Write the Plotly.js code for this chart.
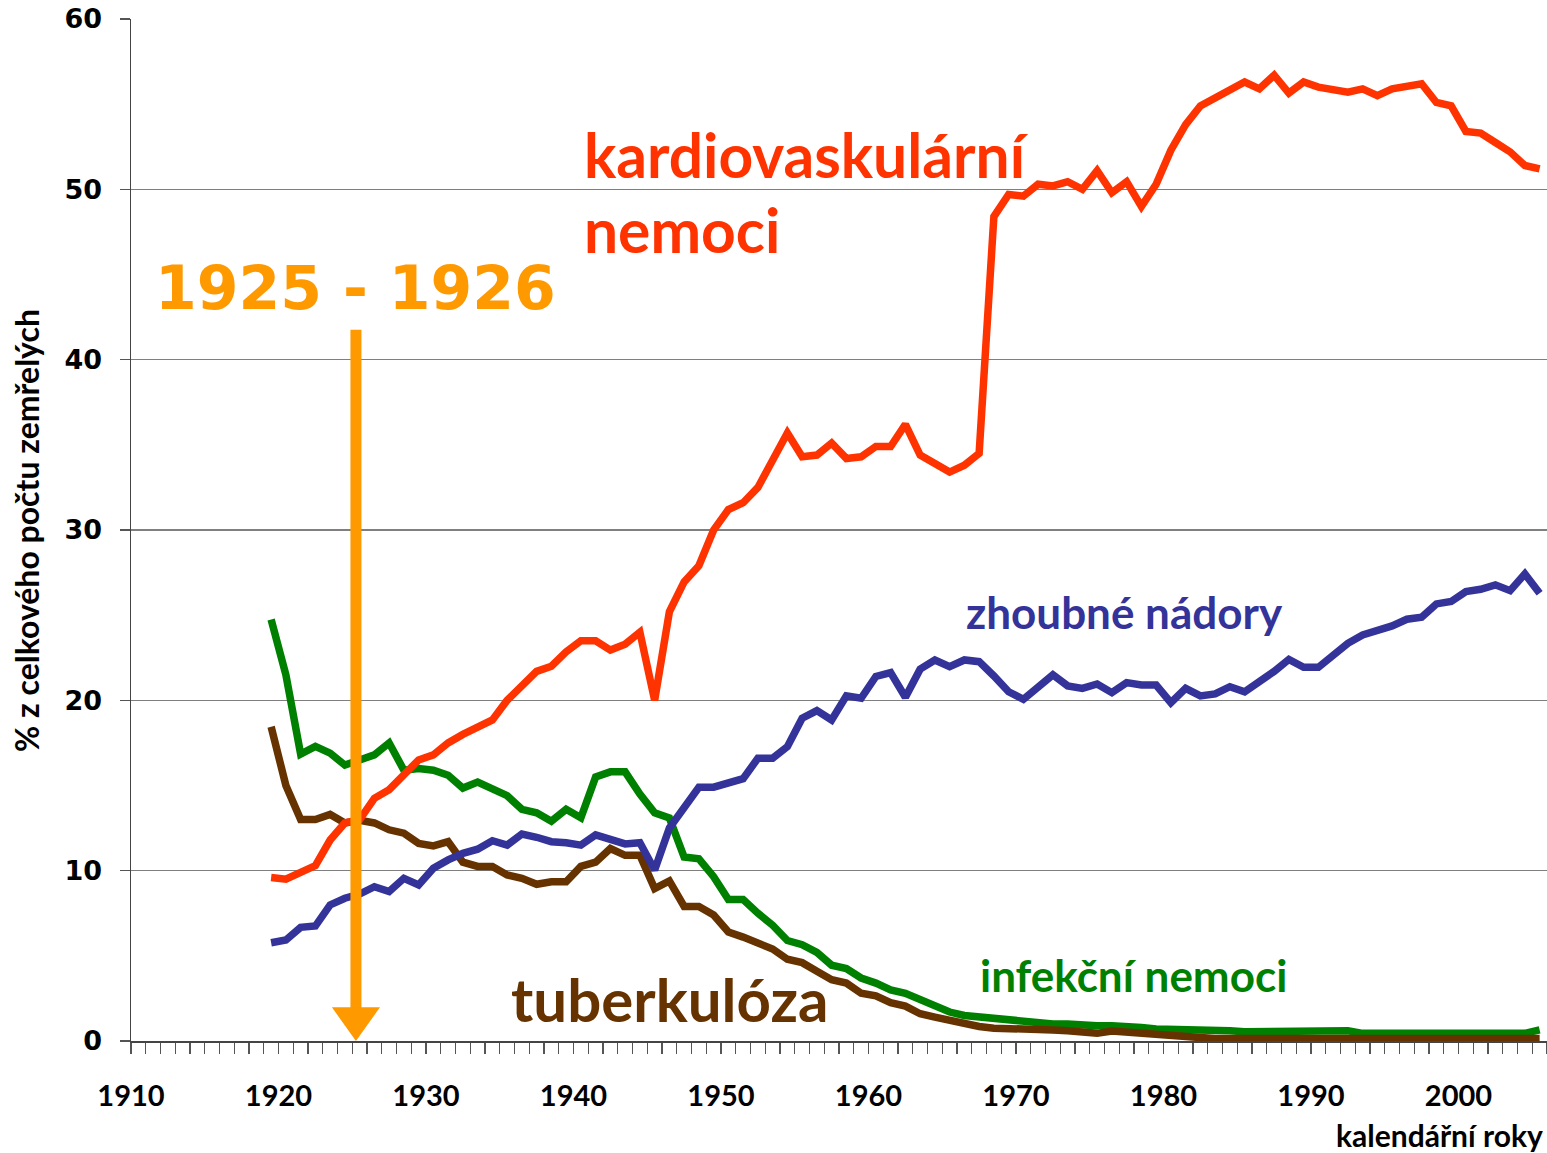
<!DOCTYPE html>
<html>
<head>
<meta charset="utf-8">
<script src="https://cdn.plot.ly/plotly-3.0.1.min.js"></script>
<style>html,body{margin:0;padding:0;background:#fff;}#chart{width:1547px;height:1153px;}</style>
</head>
<body>
<div id="chart"></div>
<script>
const years = [];
for (let y = 1919; y <= 2005; y++) years.push(y);

const cardio = [9.6,9.5,9.9,10.3,11.8,12.8,13.0,14.25,14.75,15.6,16.5,16.8,17.5,18.0,18.45,18.85,20.0,20.8,21.7,22.0,22.85,23.5,23.5,22.95,23.3,24.0,20.0,25.2,26.95,27.9,30.0,31.2,31.6,32.5,34.2,35.7,34.3,34.4,35.1,34.2,34.3,34.9,34.9,36.2,34.4,33.9,33.4,33.8,34.5,48.4,49.7,49.6,50.3,50.2,50.45,50.0,51.1,49.8,50.45,49.0,50.3,52.3,53.8,54.9,55.4,55.9,56.3,55.9,56.7,55.65,56.3,56.0,55.9,55.7,55.9,55.5,55.9,56.0,56.2,55.1,54.9,53.4,53.3,52.75,52.2,51.4,51.2];

const cancer = [5.77,5.93,6.67,6.75,7.99,8.38,8.63,9.06,8.77,9.55,9.16,10.14,10.63,11.02,11.26,11.76,11.5,12.15,11.96,11.7,11.64,11.5,12.1,11.84,11.57,11.64,10.04,12.5,13.76,14.9,14.9,15.13,15.4,16.6,16.6,17.28,18.95,19.4,18.85,20.26,20.12,21.4,21.63,20.18,21.83,22.37,21.98,22.37,22.27,21.43,20.5,20.06,20.85,21.5,20.85,20.7,20.96,20.45,21.04,20.9,20.9,19.86,20.7,20.26,20.38,20.8,20.5,21.04,21.7,22.4,21.94,21.94,22.67,23.35,23.84,24.1,24.37,24.76,24.88,25.66,25.8,26.38,26.52,26.78,26.44,27.42,26.29];

const infect = [24.75,21.5,16.85,17.3,16.9,16.2,16.5,16.8,17.5,15.9,16.0,15.9,15.6,14.85,15.2,14.75,14.4,13.6,13.4,12.9,13.6,13.1,15.5,15.8,15.8,14.5,13.4,13.1,10.8,10.7,9.65,8.3,8.3,7.5,6.8,5.9,5.65,5.2,4.45,4.25,3.7,3.4,3.0,2.8,2.4,2.0,1.7,1.5,1.4,1.3,1.2,1.1,1.0,1.0,1.0,0.9,0.9,0.9,0.9,0.8,0.7,0.7,0.65,0.6,0.7,0.6,0.55,0.55,0.5,0.6,0.5,0.6,0.5,0.6,0.45,0.45,0.45,0.45,0.45,0.45,0.45,0.45,0.45,0.45,0.45,0.45,0.65];

const tuber = [18.45,15.0,13.0,13.0,13.3,12.8,12.95,12.8,12.4,12.2,11.6,11.45,11.7,10.5,10.25,10.25,9.75,9.55,9.2,9.35,9.35,10.25,10.5,11.3,10.9,10.9,8.95,9.4,7.9,7.9,7.4,6.4,6.1,5.8,5.4,4.8,4.6,4.1,3.6,3.4,2.8,2.65,2.25,2.05,1.6,1.4,1.2,1.0,0.85,0.75,0.75,0.7,0.65,0.65,0.6,0.55,0.45,0.58,0.5,0.45,0.35,0.3,0.25,0.2,0.15,0.15,0.15,0.15,0.15,0.15,0.15,0.15,0.15,0.15,0.15,0.15,0.15,0.15,0.15,0.15,0.15,0.15,0.15,0.15,0.15,0.15,0.15];

const xTickYears = [1910,1920,1930,1940,1950,1960,1970,1980,1990,2000];
const yTicks = [0,10,20,30,40,50,60];

// annual values plotted at mid-year
const xs = years.map(y => y + 0.5);

const calibri = 'Lato, "Open Sans", sans-serif';
const W = 7.5;

const traces = [
  {x: xs, y: infect, mode: 'lines', line: {color: '#008000', width: W}, name: 'infekční nemoci'},
  {x: xs, y: tuber, mode: 'lines', line: {color: '#663300', width: W}, name: 'tuberkulóza'},
  {x: xs, y: cancer, mode: 'lines', line: {color: '#333399', width: W}, name: 'zhoubné nádory'},
  {x: xs, y: cardio, mode: 'lines', line: {color: '#FF3300', width: W}, name: 'kardiovaskulární nemoci'}
];

const ax = 1925.25;
const layout = {
  width: 1547, height: 1153,
  margin: {l: 131, r: 0, t: 19, b: 112},
  paper_bgcolor: '#fff', plot_bgcolor: '#fff',
  showlegend: false,
  xaxis: {
    range: [1910, 2006],
    tickvals: xTickYears, ticktext: xTickYears.map(String),
    ticks: 'outside', ticklen: 11, tickwidth: 1.3, tickcolor: '#555',
    showline: true, linecolor: '#444', linewidth: 1.5,
    showgrid: false, zeroline: false,
    ticklabelstandoff: 18,
    tickfont: {family: calibri, size: 29, color: '#000', weight: 700},
    minor: {dtick: 1, tick0: 1910, ticks: 'outside', ticklen: 11, tickwidth: 1.3, tickcolor: '#555', showgrid: false}
  },
  yaxis: {
    range: [0, 60],
    tickvals: yTicks,
    ticks: 'outside', ticklen: 10, tickwidth: 1.3, tickcolor: '#555',
    showline: true, linecolor: '#444', linewidth: 1.5,
    showgrid: true, gridcolor: '#7f7f7f', gridwidth: 1.3,
    zeroline: false,
    ticklabelstandoff: 12,
    tickfont: {family: '"DejaVu Sans", Verdana, sans-serif', size: 27, color: '#000', weight: 700}
  },
  shapes: [
    {type: 'line', xref: 'x', yref: 'y', x0: ax, x1: ax, y0: 1.9, y1: 41.75,
     line: {color: '#FF9900', width: 11}},
    {type: 'path', xref: 'x', yref: 'y',
     path: `M ${ax-1.63},1.98 L ${ax+1.63},1.98 L ${ax},0 Z`,
     fillcolor: '#FF9900', line: {color: '#FF9900', width: 0}}
  ],
  annotations: [
    {text: 'kardiovaskulární', x: 1940.55, y: 52.05, xref: 'x', yref: 'y', xanchor: 'left', yanchor: 'middle', showarrow: false,
     font: {family: calibri, size: 60.5, color: '#FF3300', weight: 700}},
    {text: 'nemoci', x: 1940.55, y: 47.65, xref: 'x', yref: 'y', xanchor: 'left', yanchor: 'middle', showarrow: false,
     font: {family: calibri, size: 60.5, color: '#FF3300', weight: 700}},
    {text: '1925 - 1926', x: 1911.5, y: 44.2, xref: 'x', yref: 'y', xanchor: 'left', yanchor: 'middle', showarrow: false,
     font: {family: '"DejaVu Sans", sans-serif', size: 60, color: '#FF9900', weight: 700}},
    {text: 'zhoubné nádory', x: 1966.5, y: 25.2, xref: 'x', yref: 'y', xanchor: 'left', yanchor: 'middle', showarrow: false,
     font: {family: calibri, size: 44, color: '#333399', weight: 700}},
    {text: 'infekční nemoci', x: 1967.4, y: 3.9, xref: 'x', yref: 'y', xanchor: 'left', yanchor: 'middle', showarrow: false,
     font: {family: calibri, size: 44, color: '#008000', weight: 700}},
    {text: 'tuberkulóza', x: 1935.6, y: 2.45, xref: 'x', yref: 'y', xanchor: 'left', yanchor: 'middle', showarrow: false,
     font: {family: calibri, size: 60, color: '#663300', weight: 700}},
    {text: 'kalendářní roky', x: 0.9986, y: -0.092, xref: 'paper', yref: 'paper', xanchor: 'right', yanchor: 'middle', showarrow: false,
     font: {family: calibri, size: 30, color: '#000', weight: 700}},
    {text: '% z celkového počtu zemřelých', x: -0.0734, y: 29.95, xref: 'paper', yref: 'y', xanchor: 'center', yanchor: 'middle', textangle: -90, showarrow: false,
     font: {family: calibri, size: 32, color: '#000', weight: 700}}
  ]
};

Plotly.newPlot('chart', traces, layout, {displayModeBar: false, staticPlot: true});
</script>
</body>
</html>
